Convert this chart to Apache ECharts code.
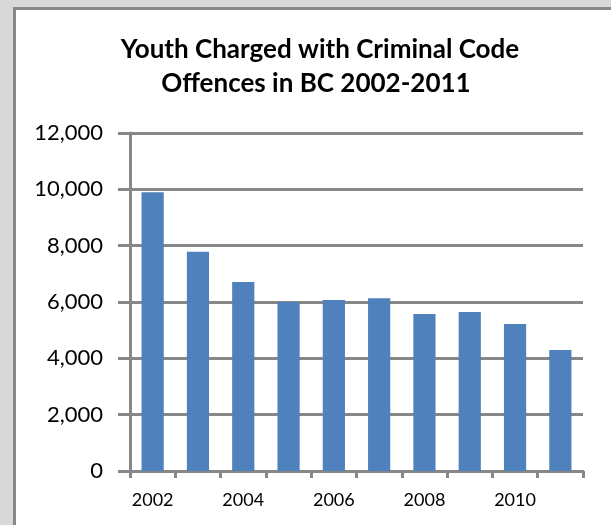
<!DOCTYPE html>
<html>
<head>
<meta charset="utf-8">
<script src="https://cdn.jsdelivr.net/npm/echarts@6/dist/echarts.min.js"></script>
<style>
html,body{margin:0;padding:0;background:#d9d9d9;}
#chart{width:611px;height:525px;}
</style>
</head>
<body>
<div id="chart"></div>
<script>
const categories = ['2002','2003','2004','2005','2006','2007','2008','2009','2010','2011'];
const values = [9900, 7780, 6710, 6000, 6070, 6130, 5575, 5645, 5220, 4300];
const titleLines = ['Youth Charged with Criminal Code', 'Offences in BC 2002-2011'];

const gridColor = '#878787';
const chart = echarts.init(document.getElementById('chart'), null, {renderer: 'canvas'});
chart.setOption({
  backgroundColor: '#d9d9d9',
  animation: false,
  graphic: [{
    type: 'rect', z: -10, silent: true,
    shape: {x: 14.5, y: 8.5, width: 700, height: 600},
    style: {fill: '#ffffff', stroke: '#888888', lineWidth: 3}
  }],
  title: [
    {text: titleLines[0], left: 315, top: 32, textAlign: 'center',
     textStyle: {fontFamily: 'Lato', fontWeight: 'bold', fontSize: 26, color: '#000'}},
    {text: titleLines[1], left: 311, top: 66, textAlign: 'center',
     textStyle: {fontFamily: 'Lato', fontWeight: 'bold', fontSize: 26, color: '#000'}}
  ],
  grid: {left: 130, right: 28, top: 133, bottom: 54, containLabel: false},
  xAxis: {
    type: 'category',
    data: categories,
    axisLine: {show: true, lineStyle: {color: gridColor, width: 3}},
    axisTick: {show: true, interval: 0, length: 7, lineStyle: {color: gridColor, width: 3}},
    axisLabel: {interval: 1, margin: 20, fontFamily: 'Lato', fontSize: 18, color: '#000'},
    splitLine: {show: false}
  },
  yAxis: {
    type: 'value',
    min: 0, max: 12000, interval: 2000,
    axisLine: {show: true, lineStyle: {color: gridColor, width: 3}},
    axisTick: {show: true, length: 12, lineStyle: {color: gridColor, width: 3}},
    axisLabel: {margin: 27, fontFamily: 'Lato', fontSize: 22, color: '#000',
      formatter: v => v.toLocaleString('en-US')},
    splitLine: {show: true, lineStyle: {color: gridColor, width: 3}}
  },
  series: [{
    type: 'bar',
    data: values,
    barWidth: '49%',
    itemStyle: {color: '#4f81bd'}
  }]
});
</script>
</body>
</html>
